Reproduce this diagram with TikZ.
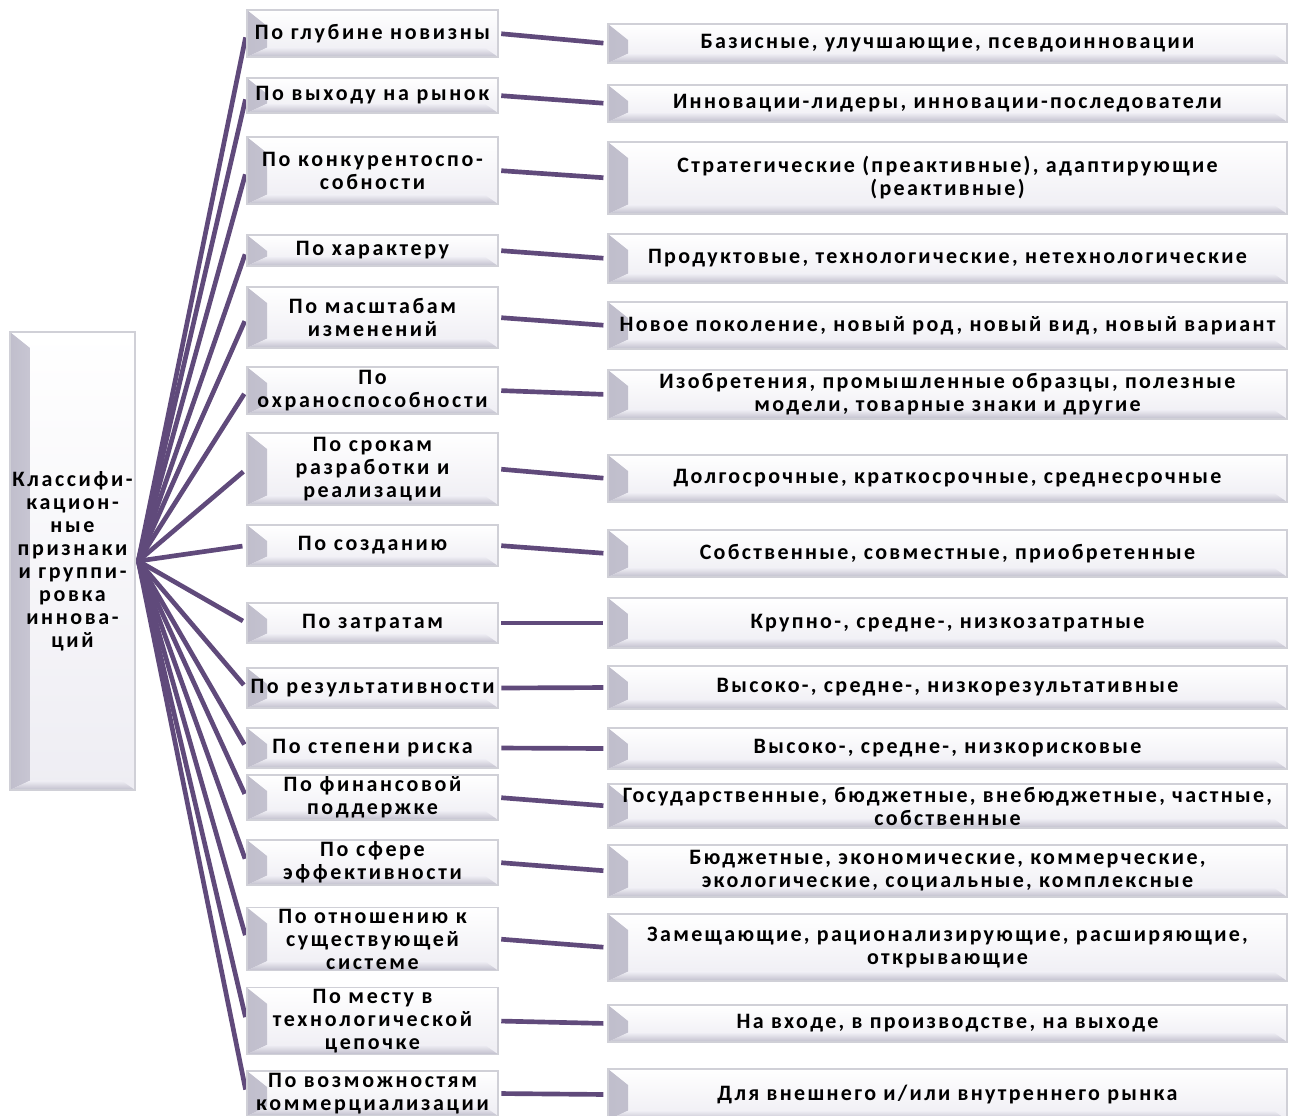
\documentclass[tikz,border=0pt]{standalone}
\usepackage{fontspec}
\setmainfont{Carlito}
\newfontfamily\critfont{Carlito}[LetterSpace=12]
\newfontfamily\groupfont{Carlito}[LetterSpace=10.5]
\usetikzlibrary{calc,backgrounds}
\definecolor{linkpurple}{RGB}{96,74,123}
\definecolor{bevdark}{RGB}{192,190,204}
\definecolor{bevlight}{RGB}{240,239,245}
\definecolor{bodylow}{RGB}{238,237,243}
\definecolor{boxedge}{RGB}{208,208,215}

\tikzset{
  bevel/.style={draw=boxedge, line width=0.9pt, top color=white, bottom color=bodylow,
    inner sep=1pt, align=center,
    path picture={
      \path[left color=bevdark, right color=bevlight]
        (path picture bounding box.north west)
        -- ($(path picture bounding box.north west)+(15pt,-12pt)$)
        -- ($(path picture bounding box.south west)+(15pt,7pt)$)
        -- (path picture bounding box.south west) -- cycle;
      \path[top color=bevlight, bottom color=bevdark]
        (path picture bounding box.south west)
        -- ($(path picture bounding box.south west)+(15pt,7pt)$)
        -- ($(path picture bounding box.south east)+(-10pt,7pt)$)
        -- (path picture bounding box.south east) -- cycle;
    }},
  rootbox/.style={bevel, minimum width=93.75pt, minimum height=343.5pt,
    font=\critfont\bfseries\fontsize{16.5}{17.25}\selectfont},
  critbox/.style={bevel, minimum width=188.25pt,
    font=\critfont\bfseries\fontsize{16.5}{17.25}\selectfont},
  groupbox/.style={bevel, minimum width=509.25pt,
    font=\groupfont\bfseries\fontsize{16.5}{17.25}\selectfont},
  link/.style={draw=linkpurple, line width=3.5pt},
}

% criterion box: name, top, bottom, text
\newcommand\critnode[4]{%
  \node[critbox, minimum height={(#3-#2)*0.75pt}] (#1) at (372.5,{(#2+#3)/2}) {#4};}
% group box: name, top, bottom, text
\newcommand\groupnode[4]{%
  \node[groupbox, minimum height={(#3-#2)*0.75pt}] (#1) at (947.5,{(#2+#3)/2}) {#4};}

\begin{document}
\begin{tikzpicture}[x=0.75pt, y=-0.75pt]
\useasboundingbox (0,0) rectangle (1299,1115);
\clip (0,0) rectangle (1299,1115);

\node[rootbox] (root) at (72.5,561) {Классифи-\\кацион-\\ные\\признаки\\и группи-\\ровка\\иннова-\\ций};

\critnode{m1}{10}{57}{По глубине новизны}
\critnode{m2}{78}{113}{По выходу на рынок}
\critnode{m3}{137}{204}{По конкурентоспо-\\собности}
\critnode{m4}{235}{266}{По характеру}
\critnode{m5}{287}{348}{По масштабам\\изменений}
\critnode{m6}{367}{414}{По\\охраноспособности}
\critnode{m7}{433}{505}{По срокам\\разработки и\\реализации}
\critnode{m8}{525}{566}{По созданию}
\critnode{m9}{603}{643}{По затратам}
\critnode{m10}{668}{708}{По результативности}
\critnode{m11}{728}{768}{По степени риска}
\critnode{m12}{775}{820}{По финансовой\\поддержке}
\critnode{m13}{840}{885}{По сфере\\эффективности}
\critnode{m14}{908}{970}{По отношению к\\существующей\\системе}
\critnode{m15}{990}{1052}{По месту в\\технологической\\цепочке}
\critnode{m16}{1071}{1116}{По возможностям\\коммерциализации}

\groupnode{r1}{24}{63}{Базисные, улучшающие, псевдоинновации}
\groupnode{r2}{85}{122}{Инновации-лидеры, инновации-последователи}
\groupnode{r3}{142}{214}{Стратегические (преактивные), адаптирующие\\(реактивные)}
\groupnode{r4}{234}{283}{Продуктовые, технологические, нетехнологические}
\groupnode{r5}{302}{349}{Новое поколение, новый род, новый вид, новый вариант}
\groupnode{r6}{370}{419}{Изобретения, промышленные образцы, полезные\\модели, товарные знаки и другие}
\groupnode{r7}{455}{502}{Долгосрочные, краткосрочные, среднесрочные}
\groupnode{r8}{530}{577}{Собственные, совместные, приобретенные}
\groupnode{r9}{598}{648}{Крупно-, средне-, низкозатратные}
\groupnode{r10}{666}{709}{Высоко-, средне-, низкорезультативные}
\groupnode{r11}{728}{769}{Высоко-, средне-, низкорисковые}
\groupnode{r12}{784}{828}{Государственные, бюджетные, внебюджетные, частные,\\собственные}
\groupnode{r13}{845}{897}{Бюджетные, экономические, коммерческие,\\экологические, социальные, комплексные}
\groupnode{r14}{914}{981}{Замещающие, рационализирующие, расширяющие,\\открывающие}
\groupnode{r15}{1005}{1042}{На входе, в производстве, на выходе}
\groupnode{r16}{1069}{1120}{Для внешнего и/или внутреннего рынка}

\begin{scope}[on background layer]
  \foreach \i in {1,...,16} {
    \draw[link, shorten >=3pt] ([xshift=2pt]root.east) -- (m\i.west);
    \draw[link, shorten <=2pt, shorten >=3pt] (m\i.east) -- (r\i.west);
  }
\end{scope}
\end{tikzpicture}
\end{document}
